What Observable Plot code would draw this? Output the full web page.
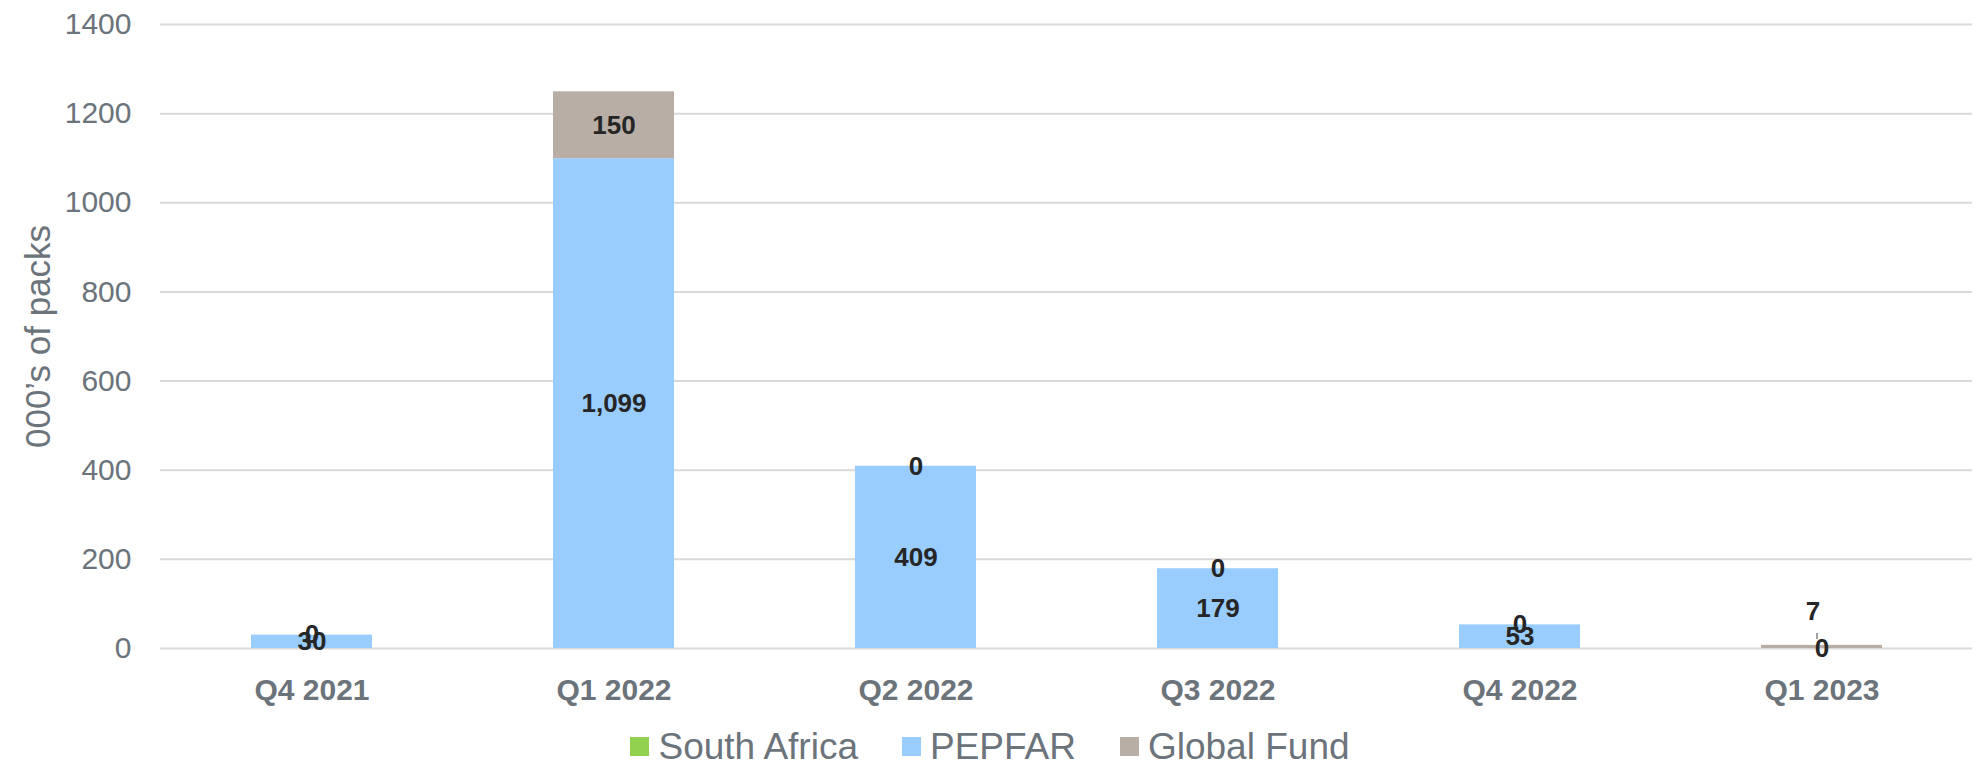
<!DOCTYPE html>
<html><head><meta charset="utf-8">
<script src="https://cdn.jsdelivr.net/npm/d3@7"></script>
<script src="https://cdn.jsdelivr.net/npm/@observablehq/plot@0.6"></script>
<style>
html,body{margin:0;padding:0;background:#fff;}
#chart{width:1980px;}
.legend{display:flex;justify-content:center;align-items:center;height:37px;font-family:"Liberation Sans",Arial,sans-serif;font-size:37px;color:#6b737b;}
.legend .item{display:flex;align-items:center;margin:0 22px;}
.legend .sw{width:19px;height:19px;margin-right:9px;}
</style></head><body><div id="chart"></div>
<script>
const quarters = ["Q4 2021","Q1 2022","Q2 2022","Q3 2022","Q4 2022","Q1 2023"];
const seriesNames = ["South Africa","PEPFAR","Global Fund"];
const southAfrica = [null,null,null,null,null,null];
const pepfar = [30,1099,409,179,53,0];
const globalFund = [0,150,0,0,0,7];
const seriesColors = ["#92d050","#99ccff","#b8aea5"];
const yTicks = [0,200,400,600,800,1000,1200,1400];
const labelledSeries = ["PEPFAR","Global Fund"];
const calloutLabels = [["Q1 2023","Global Fund"]];
const yTitle = "000\u2019s of packs";

const seriesValues = [southAfrica, pepfar, globalFund];
const rows = [];
seriesNames.forEach((s, si) => quarters.forEach((q, qi) => rows.push({quarter: q, series: s, value: seriesValues[si][qi]})));
const isCallout = d => calloutLabels.some(([q, s]) => q === d.quarter && s === d.series);
const fmt = d3.format(",");
const labelText = d => (d.value == null || !labelledSeries.includes(d.series)) ? "" : fmt(d.value);
const stackOpts = {x: "quarter", y: "value", z: "series", order: seriesNames};

const txtColor = "#6b737b";
const plot = Plot.plot({
  width: 1980,
  height: 728,
  marginTop: 24,
  marginBottom: 80,
  marginLeft: 160,
  marginRight: 8,
  style: {fontFamily: "'Liberation Sans', Arial, sans-serif", fontSize: "30px", color: txtColor, background: "#fff"},
  x: {domain: quarters, paddingInner: 0.6, paddingOuter: 0.3, tickSize: 0, tickPadding: 30, label: null},
  y: {domain: [0, 1400], ticks: yTicks, tickFormat: d3.format("d"), tickSize: 0, tickPadding: 29, label: null},
  color: {domain: seriesNames, range: seriesColors},
  marks: [
    Plot.ruleY(yTicks, {stroke: "#d9d9d9", strokeWidth: 2}),
    Plot.barY(rows, Plot.stackY({...stackOpts, fill: "series"})),
    Plot.text(rows, Plot.stackY({...stackOpts, text: d => isCallout(d) ? "" : labelText(d), fill: "#262626", fontWeight: "bold", fontSize: 26})),
    Plot.text(rows, Plot.stackY({...stackOpts, text: d => isCallout(d) ? labelText(d) : "", fill: "#262626", fontWeight: "bold", fontSize: 26, dx: -9, dy: -35})),
    Plot.ruleX(rows, Plot.stackY({...stackOpts, stroke: d => isCallout(d) ? "#a0a0a0" : "none", strokeWidth: 2, insetTop: -15, insetBottom: 6, dx: -5})),
    Plot.text([yTitle], {frameAnchor: "left", textAnchor: "middle", dx: -122, rotate: -90, fontSize: 35, fill: txtColor})
  ]
});
d3.select(plot).selectAll('g[aria-label^="x-axis"]').attr("font-weight", "bold").attr("font-size", 30);
document.getElementById("chart").appendChild(plot);

const cs = plot.scale("color");
const legend = d3.select("#chart").append("div").attr("class", "legend");
cs.domain.forEach((name, i) => {
  const it = legend.append("div").attr("class", "item");
  it.append("div").attr("class", "sw").style("background", cs.range[i]);
  it.append("span").text(name);
});
</script></body></html>
